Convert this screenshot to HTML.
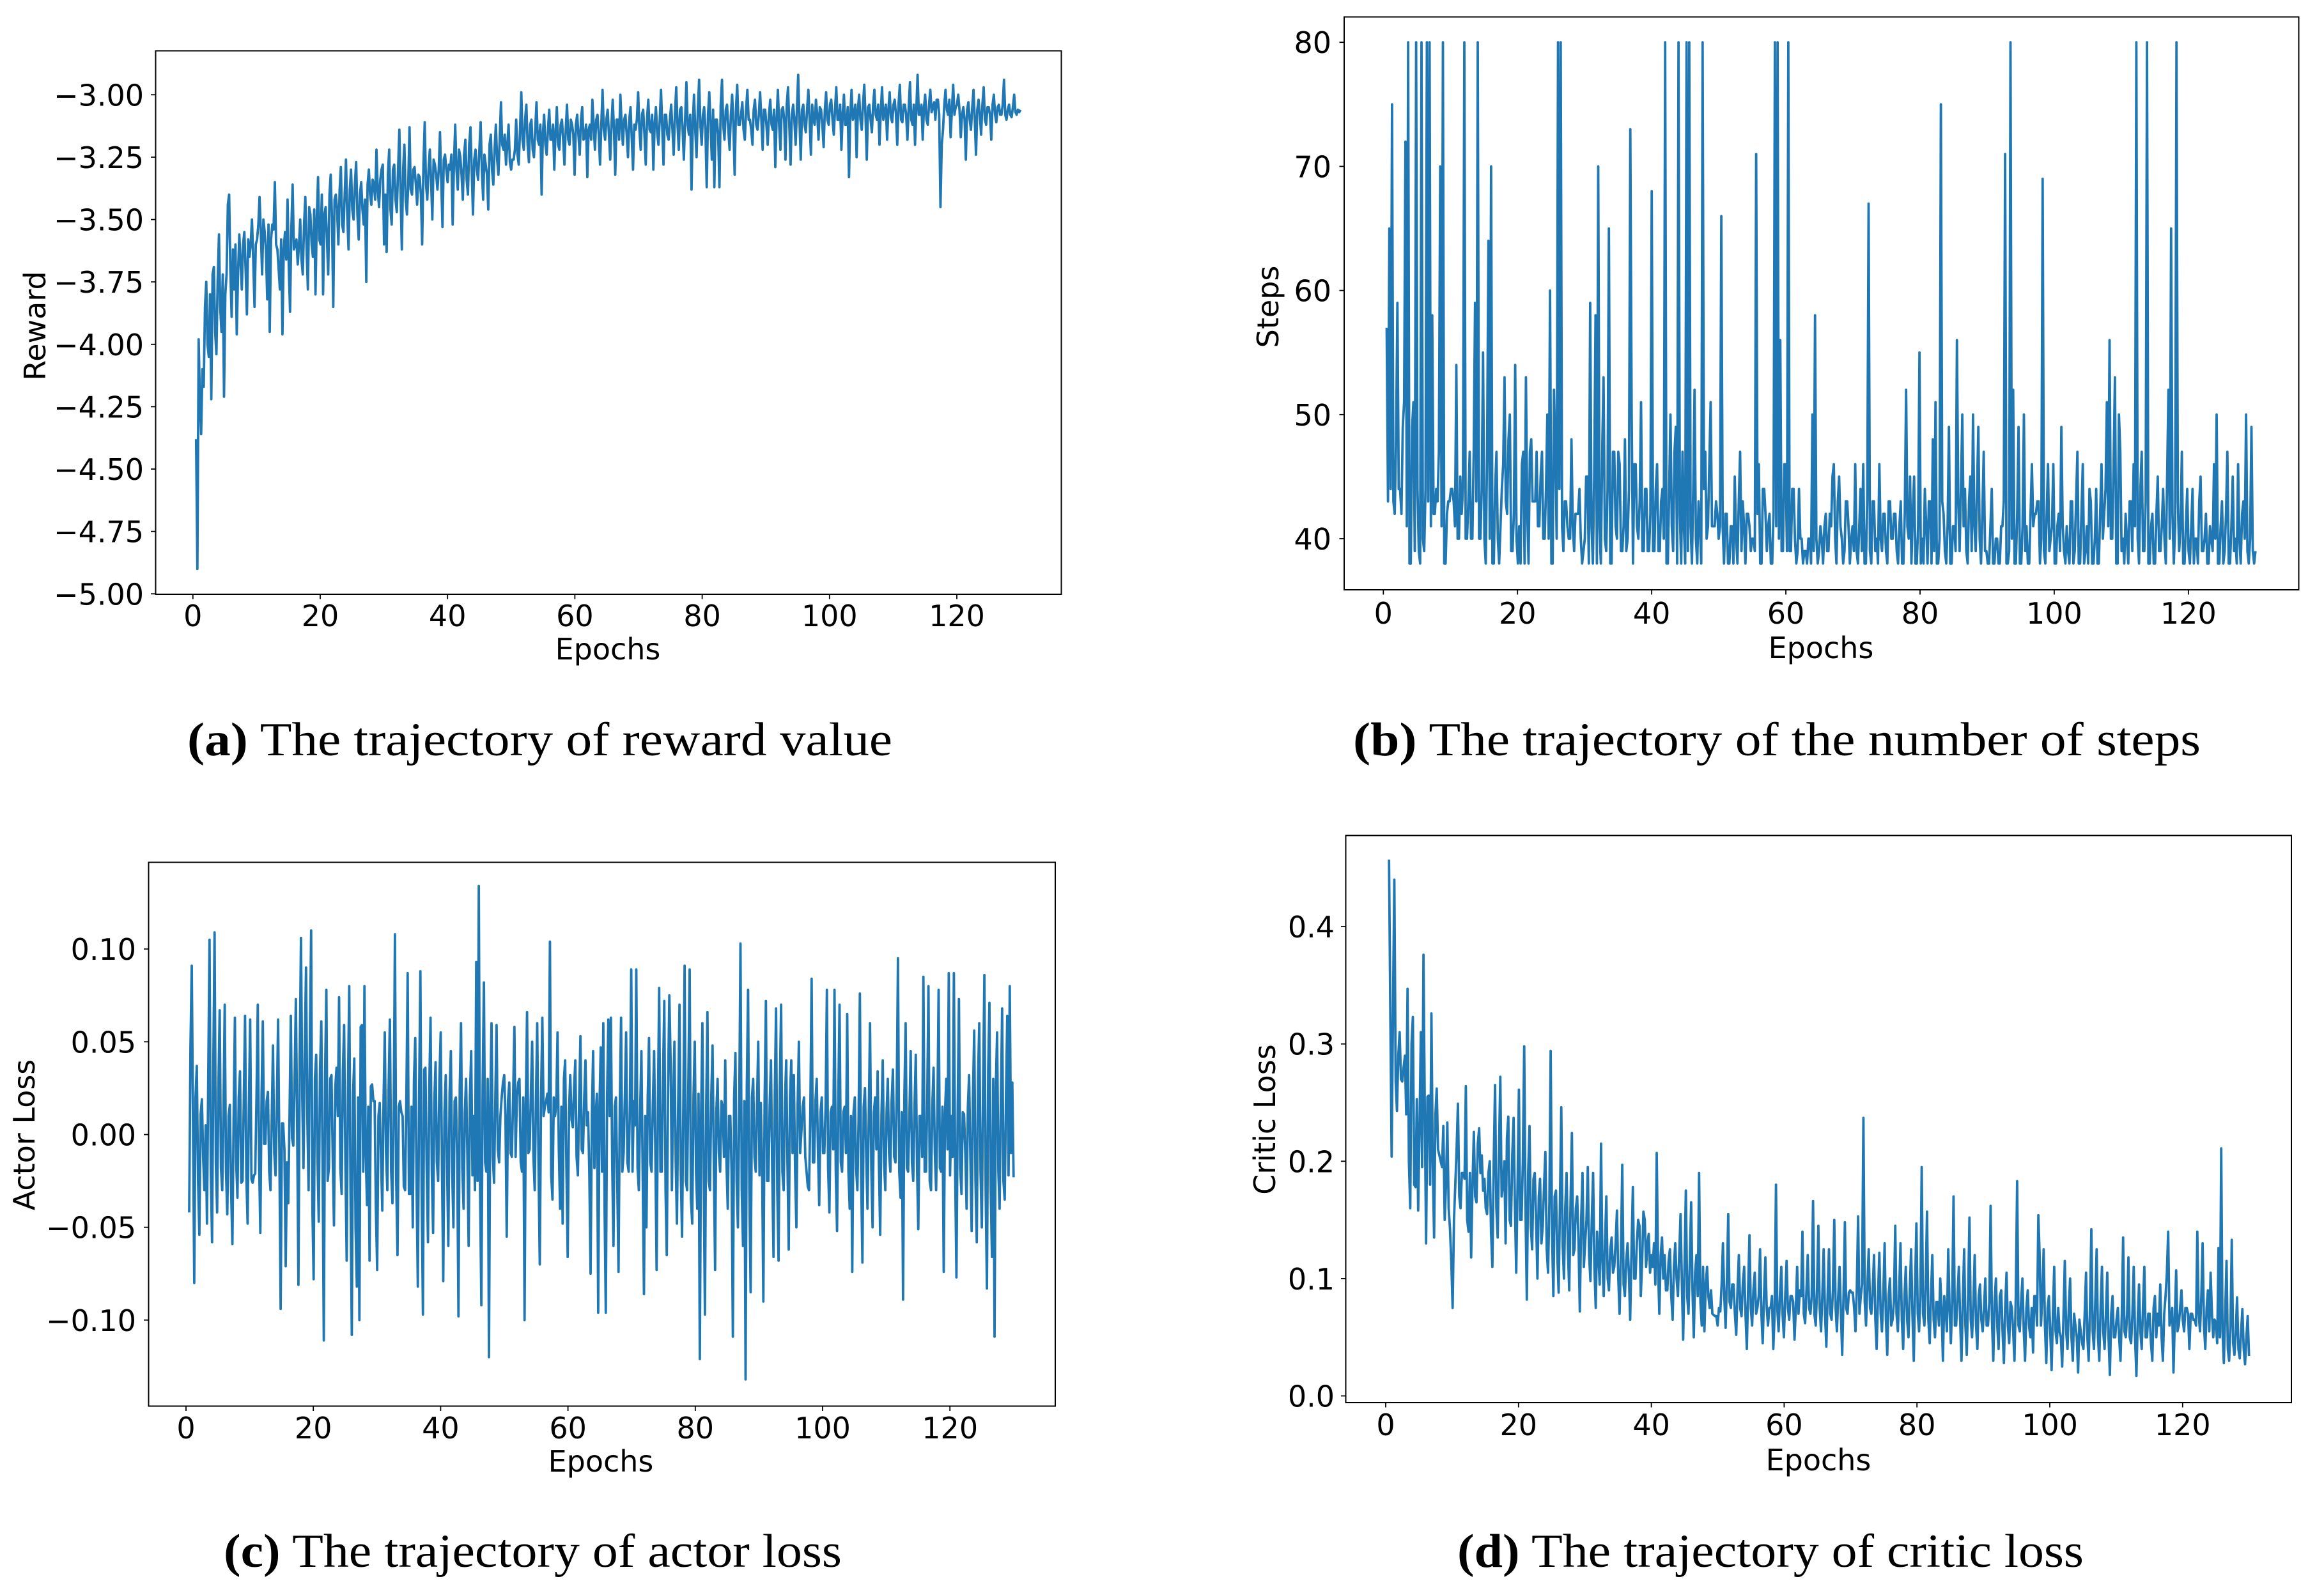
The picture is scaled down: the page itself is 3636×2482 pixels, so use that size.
<!DOCTYPE html>
<html lang="en">
<head>
<meta charset="utf-8">
<title>Training trajectories</title>
<style>
html,body{margin:0;padding:0;background:#fff;width:3636px;height:2482px;overflow:hidden}
svg{display:block}
.tick,.axis-title{font-family:"DejaVu Sans","Liberation Sans",sans-serif;font-size:46px;fill:#000}
.caption{font-family:"Liberation Serif",serif;font-size:74px;fill:#000}
.caption .b{font-weight:700}
</style>
</head>
<body>
<svg id="figure" xmlns="http://www.w3.org/2000/svg" width="3636" height="2482" viewBox="0 0 3636 2482">
  <rect width="3636" height="2482" fill="#fff"/>

  <text class="axis-title" x="951" y="1032" text-anchor="middle">Epochs</text>
  <text class="axis-title" text-anchor="middle" transform="translate(71 510) rotate(-90)">Reward</text>
  <text class="caption" x="293" y="1182" textLength="1103" lengthAdjust="spacingAndGlyphs"><tspan class="b">(a)</tspan> The trajectory of reward value</text>

  <text class="axis-title" x="2849" y="1030" text-anchor="middle">Epochs</text>
  <text class="axis-title" text-anchor="middle" transform="translate(2000 480) rotate(-90)">Steps</text>
  <text class="caption" x="2117" y="1182" textLength="1326" lengthAdjust="spacingAndGlyphs"><tspan class="b">(b)</tspan> The trajectory of the number of steps</text>

  <text class="axis-title" x="940" y="2303" text-anchor="middle">Epochs</text>
  <text class="axis-title" text-anchor="middle" transform="translate(54 1776) rotate(-90)">Actor Loss</text>
  <text class="caption" x="350" y="2452" textLength="967" lengthAdjust="spacingAndGlyphs"><tspan class="b">(c)</tspan> The trajectory of actor loss</text>

  <text class="axis-title" x="2845" y="2301" text-anchor="middle">Epochs</text>
  <text class="axis-title" text-anchor="middle" transform="translate(1995 1752) rotate(-90)">Critic Loss</text>
  <text class="caption" x="2280" y="2452" textLength="980" lengthAdjust="spacingAndGlyphs"><tspan class="b">(d)</tspan> The trajectory of critic loss</text>
</svg>
<script>
const epochFirst = 0.5;
const epochLast = 130;
const xTickValues = [0, 20, 40, 60, 80, 100, 120];
const rewardTicks = [-3, -3.25, -3.5, -3.75, -4, -4.25, -4.5, -4.75, -5];
const stepsTicks = [40, 50, 60, 70, 80];
const actorTicks = [-0.1, -0.05, 0, 0.05, 0.1];
const criticTicks = [0, 0.1, 0.2, 0.3, 0.4];

const rewardValues = [
-4.38,-4.90,-3.98,-4.22,-4.36,-4.10,-4.17,-3.85,-3.75,-4.00,-4.05,-3.80,-4.22,-3.72,-3.69,-3.95,-4.04,-3.74,-3.56,-3.85,-3.95,-3.72,-4.21,-3.80,-3.72,-3.44,-3.40,-3.70,-3.89,-3.62,-3.78,-3.60,-3.96,-3.72,-3.56,-3.66,-3.78,-3.60,-3.55,-3.70,-3.88,-3.58,-3.65,-3.60,-3.50,-3.66,-3.85,-3.60,-3.58,-3.52,
-3.41,-3.55,-3.72,-3.50,-3.55,-3.62,-3.82,-3.52,-3.95,-3.58,-3.52,-3.54,-3.35,-3.60,-3.62,-3.70,-3.78,-3.58,-3.96,-3.62,-3.55,-3.66,-3.42,-3.70,-3.87,-3.54,-3.36,-3.62,-3.60,-3.58,-3.68,-3.60,-3.50,-3.66,-3.72,-3.52,-3.41,-3.62,-3.78,-3.45,-3.48,-3.60,-3.65,-3.46,-3.80,-3.50,-3.33,-3.58,-3.60,-3.40,
-3.80,-3.48,-3.45,-3.58,-3.72,-3.40,-3.32,-3.50,-3.85,-3.42,-3.40,-3.46,-3.60,-3.38,-3.29,-3.52,-3.55,-3.40,-3.26,-3.48,-3.62,-3.38,-3.30,-3.46,-3.50,-3.36,-3.27,-3.48,-3.58,-3.40,-3.35,-3.46,-3.52,-3.42,-3.75,-3.36,-3.30,-3.40,-3.44,-3.34,-3.36,-3.42,-3.22,-3.38,-3.45,-3.34,-3.30,-3.28,-3.60,-3.40,
-3.63,-3.32,-3.22,-3.46,-3.52,-3.30,-3.28,-3.42,-3.47,-3.30,-3.14,-3.40,-3.62,-3.30,-3.20,-3.42,-3.48,-3.36,-3.13,-3.38,-3.40,-3.30,-3.29,-3.36,-3.44,-3.32,-3.33,-3.40,-3.60,-3.28,-3.11,-3.36,-3.42,-3.30,-3.22,-3.34,-3.50,-3.26,-3.28,-3.32,-3.38,-3.30,-3.15,-3.34,-3.53,-3.26,-3.24,-3.30,-3.35,-3.28,
-3.30,-3.24,-3.52,-3.28,-3.12,-3.30,-3.38,-3.22,-3.25,-3.32,-3.42,-3.24,-3.18,-3.34,-3.40,-3.20,-3.13,-3.30,-3.48,-3.26,-3.22,-3.30,-3.34,-3.22,-3.11,-3.30,-3.42,-3.24,-3.28,-3.32,-3.46,-3.20,-3.16,-3.30,-3.36,-3.22,-3.12,-3.26,-3.32,-3.18,-3.03,-3.20,-3.22,-3.16,-3.28,-3.20,-3.12,-3.27,-3.30,-3.26,
-3.26,-3.22,-3.10,-3.24,-3.28,-3.14,-2.99,-3.18,-3.22,-3.10,-3.04,-3.20,-3.27,-3.12,-3.10,-3.22,-3.25,-3.14,-3.03,-3.18,-3.20,-3.12,-3.40,-3.16,-3.08,-3.20,-3.24,-3.14,-3.06,-3.18,-3.18,-3.12,-3.30,-3.15,-3.05,-3.20,-3.22,-3.12,-3.10,-3.18,-3.28,-3.14,-3.04,-3.18,-3.20,-3.10,-3.12,-3.16,-3.32,-3.12,
-3.08,-3.16,-3.24,-3.10,-3.05,-3.18,-3.17,-3.12,-3.33,-3.14,-3.12,-3.18,-3.02,-3.12,-3.22,-3.10,-3.08,-3.16,-3.28,-3.12,-2.98,-3.14,-3.18,-3.10,-3.06,-3.16,-3.26,-3.12,-3.02,-3.14,-3.32,-3.10,-3.10,-3.18,-3.00,-3.12,-3.20,-3.10,-3.08,-3.16,-3.25,-3.10,-3.05,-3.18,-3.30,-3.12,-3.14,-3.10,-2.99,-3.14,
-3.22,-3.08,-3.06,-3.16,-3.28,-3.10,-3.02,-3.14,-3.15,-3.08,-3.30,-3.12,-3.05,-3.15,-3.20,-3.10,-2.98,-3.14,-3.28,-3.08,-3.08,-3.16,-3.18,-3.10,-3.04,-3.14,-3.24,-3.08,-2.97,-3.12,-3.22,-3.06,-3.05,-3.14,-3.26,-3.10,-2.95,-3.12,-3.16,-3.08,-3.38,-3.12,-3.00,-3.14,-3.25,-3.06,-2.94,-3.12,-3.20,-3.08,
-3.05,-3.14,-3.37,-3.08,-2.99,-3.12,-3.26,-3.06,-3.37,-3.10,-3.10,-3.16,-3.37,-3.04,-2.94,-3.12,-3.18,-3.06,-3.04,-3.14,-3.22,-3.08,-3.00,-3.12,-3.32,-3.06,-2.96,-3.12,-3.12,-3.08,-3.03,-3.14,-3.18,-3.06,-2.98,-3.10,-3.10,-3.14,-3.20,-3.06,-3.02,-3.12,-3.14,-3.08,-2.99,-3.10,-3.22,-3.06,-3.06,-3.12,
-3.20,-3.08,-3.02,-3.12,-3.14,-3.06,-3.29,-3.10,-2.98,-3.12,-3.22,-3.06,-3.05,-3.10,-3.26,-3.04,-2.97,-3.12,-3.28,-3.08,-3.04,-3.10,-3.20,-3.06,-2.92,-3.10,-3.26,-3.06,-3.04,-3.12,-3.15,-3.06,-2.98,-3.10,-3.24,-3.04,-3.10,-3.12,-3.02,-3.08,-3.18,-3.05,-3.06,-3.12,-3.21,-3.06,-2.99,-3.10,-3.12,-3.04,
-3.02,-3.10,-3.16,-3.06,-2.97,-3.10,-3.10,-3.04,-3.22,-3.08,-3.00,-3.12,-3.12,-3.05,-3.33,-3.08,-2.98,-3.10,-3.08,-3.04,-3.25,-3.06,-3.00,-3.10,-3.14,-3.04,-2.96,-3.08,-3.26,-3.05,-3.04,-3.10,-3.15,-3.04,-2.98,-3.08,-3.10,-3.04,-3.20,-3.07,-2.97,-3.10,-3.07,-3.04,-3.18,-3.06,-2.99,-3.09,-3.11,-3.04,
-3.02,-3.08,-3.20,-3.04,-2.96,-3.10,-3.11,-3.04,-3.04,-3.08,-3.18,-3.05,-2.95,-3.10,-3.12,-3.04,-3.20,-3.06,-2.92,-3.08,-3.08,-3.04,-3.18,-3.05,-3.00,-3.10,-3.12,-3.04,-2.98,-3.07,-3.05,-3.03,-3.10,-3.02,-3.02,-3.08,-3.45,-3.20,-3.14,-3.04,-2.98,-3.06,-3.08,-3.02,-3.17,-3.06,-2.96,-3.08,-3.05,-3.04,
-3.00,-3.06,-3.17,-3.08,-3.05,-3.10,-3.26,-3.06,-3.03,-3.10,-3.14,-3.05,-2.98,-3.10,-3.24,-3.06,-3.02,-3.08,-3.16,-3.04,-2.97,-3.10,-3.12,-3.05,-3.05,-3.08,-3.18,-3.04,-3.00,-3.08,-3.11,-3.05,-3.04,-3.08,-3.08,-3.04,-2.94,-3.08,-3.10,-3.06,-3.04,-3.08,-3.09,-3.05,-3.00,-3.07,-3.08,-3.06,-3.07,-3.06
];

const stepsValues = [
57,43,65,44,75,43,42,48,59,44,44,42,49,51,72,41,80,38,38,49,51,39,80,44,39,38,80,40,39,44,80,43,80,41,58,42,42,44,43,47,70,41,80,38,38,42,43,43,44,44,
43,41,54,40,40,45,42,44,80,40,40,43,47,40,40,47,59,43,80,40,40,44,55,40,38,47,64,40,70,38,38,44,47,40,38,41,44,46,53,43,42,48,50,39,39,42,54,40,38,41,
38,46,47,38,53,42,38,47,48,43,43,43,47,41,41,45,47,40,40,44,50,40,60,38,38,52,47,40,80,44,80,41,39,43,43,41,40,40,48,41,39,42,42,42,44,40,38,39,40,45,
45,38,59,41,38,45,58,38,70,41,38,47,53,40,39,44,65,38,38,47,47,41,40,47,46,39,39,41,48,39,40,44,73,50,38,46,46,41,40,43,51,39,39,44,44,39,39,42,68,39,
39,44,46,39,39,43,44,40,80,38,38,44,50,41,39,47,49,38,80,42,38,47,41,38,80,39,80,41,38,44,52,40,38,43,41,38,80,44,47,40,41,46,51,41,41,41,43,42,40,41,
66,41,38,42,42,38,38,41,41,38,45,40,38,43,47,39,43,41,38,42,42,41,39,40,40,39,71,42,46,38,38,44,44,42,39,41,42,38,38,42,80,41,80,40,56,39,39,46,46,39,
80,39,39,44,44,40,38,39,44,40,40,38,39,39,38,40,40,38,50,39,58,40,38,39,41,40,38,41,42,39,39,42,41,45,46,40,38,43,45,41,40,38,39,43,43,41,38,40,41,39,
46,39,38,41,44,39,46,38,38,43,67,39,38,43,43,39,40,38,46,40,39,42,42,39,38,43,43,40,40,42,42,39,38,41,43,38,38,42,52,41,40,45,38,42,45,38,38,41,55,38,
40,38,44,41,38,43,43,38,48,39,51,38,38,40,75,43,42,39,38,41,49,38,38,41,41,39,56,43,39,44,50,41,44,39,38,43,45,39,50,41,39,44,49,40,38,42,47,39,39,38,
38,41,44,38,38,40,40,38,38,41,41,43,71,38,38,39,80,40,52,38,38,42,49,38,38,41,50,39,41,38,38,42,46,41,42,42,43,43,38,40,69,39,38,42,46,39,40,41,46,38,
38,41,42,39,49,41,39,38,41,39,38,43,43,38,39,43,47,38,38,42,46,38,39,41,38,44,43,38,38,40,44,38,38,42,46,40,42,44,51,41,56,40,40,46,53,38,38,50,47,39,
40,38,42,40,38,43,43,39,46,41,80,40,38,44,47,39,39,43,80,38,38,41,42,38,38,42,45,39,39,41,44,40,38,45,52,40,65,42,38,41,80,43,39,41,47,38,38,41,44,39,
38,41,44,38,40,40,38,43,45,39,39,40,42,38,38,41,40,39,46,40,50,38,38,41,43,38,39,42,47,38,38,41,45,39,40,38,46,40,38,42,43,40,50,39,38,40,49,39,38,39
];

const actorValues = [
-.042,.047,.091,.012,-.080,.020,.037,-.025,-.054,.011,.019,-.012,-.030,.005,-.048,.030,.105,-.020,-.058,.035,.109,-.015,-.042,.025,.067,-.018,-.030,.012,.070,-.020,-.043,.010,.016,-.030,-.059,.008,.063,-.015,-.034,.020,.034,-.026,-.025,.018,.064,-.022,-.048,.015,.062,-.024,
-.026,-.022,-.021,.020,.070,-.012,-.053,.022,.061,-.005,-.005,.018,.023,-.020,-.030,.010,.048,-.010,-.022,.015,.062,-.010,-.094,.006,.006,-.008,-.071,-.015,-.037,.010,.064,-.002,-.006,.030,.073,.005,-.081,.040,.106,.020,-.018,.045,.090,.010,-.030,.050,.110,-.040,-.078,.030,
.043,-.012,-.047,.035,.061,-.015,-.111,.032,.078,-.025,-.018,.030,.032,-.012,-.049,.025,.036,.010,.074,-.018,-.032,.035,.059,-.015,-.068,.025,.080,-.030,-.108,.022,.041,-.050,-.082,.020,-.100,.058,.059,-.020,.080,-.010,-.038,.015,-.068,.026,.027,.018,.018,-.040,-.073,.010,
.017,-.012,-.041,.018,.055,-.010,-.030,.025,.062,-.020,-.037,.014,.108,-.025,-.065,.015,.018,.012,.010,-.028,-.030,.020,.087,-.032,-.032,.015,-.050,.030,.052,-.025,-.082,.020,.088,-.030,-.097,.035,.036,-.018,-.058,.025,.063,-.020,-.053,.018,.039,-.015,-.025,.030,.055,-.018,
-.079,.012,.032,-.015,-.060,.022,.045,-.018,-.050,.018,.020,-.012,-.098,.025,.060,-.018,-.040,.012,.030,-.010,-.060,.020,.045,-.022,.010,-.030,.093,-.025,.134,-.030,-.092,.025,.082,-.015,-.020,.030,-.120,.015,.060,-.012,-.026,.018,.059,-.008,-.015,.010,.020,.028,.032,.010,
-.055,.018,.028,-.010,-.012,.020,.058,-.012,.020,.028,.030,-.015,-.020,.020,-.100,.015,.066,-.010,-.008,.022,.050,-.012,-.030,.018,.060,-.015,-.070,.020,.063,.010,.015,.018,.022,.012,.104,-.022,-.035,.020,.010,.016,.055,-.008,-.040,.015,-.048,.030,.040,-.018,-.066,.012,
.032,.008,.004,.025,.040,-.012,-.022,.018,.053,-.008,-.010,.020,.040,.005,.012,-.020,-.075,.010,.045,-.018,.010,.022,-.096,.015,.047,-.020,.060,-.040,-.096,.020,.062,.010,.063,-.015,-.060,.015,.020,-.025,-.074,.015,.063,-.020,-.010,.022,.055,-.015,-.020,.018,.089,-.020,
.018,.005,.089,-.018,-.030,.012,.045,-.020,-.086,.010,-.050,.020,.052,-.015,-.020,.016,.045,-.012,-.073,.015,.079,-.020,-.020,.030,.072,-.030,-.065,.025,.075,.040,-.030,.020,.050,-.015,-.048,.018,.070,-.020,-.055,.015,.091,-.025,-.030,.030,.089,-.035,-.048,.020,.050,-.020,
-.040,.022,-.121,.010,.060,-.020,-.097,.015,.066,-.025,-.030,.020,.048,-.015,-.073,.012,.030,-.010,-.020,.018,.015,-.012,.040,-.015,-.040,.010,.010,-.020,-.109,.020,.044,-.025,-.050,.012,.103,-.030,-.060,.018,-.132,.025,.078,-.030,-.085,.020,.030,-.012,-.020,.015,.050,-.022,
.017,-.015,-.090,.018,.072,-.025,-.025,.016,.040,-.020,-.066,.022,.068,-.030,-.068,.025,.070,-.020,-.030,.018,.040,-.015,-.062,.020,.040,-.010,.032,-.020,-.050,.015,.050,-.010,.002,.015,.020,-.012,-.020,-.028,-.030,.012,.084,-.015,-.015,.018,.030,-.008,-.038,.012,.020,-.010,
-.010,.015,.078,-.018,-.042,.012,.015,-.008,.078,-.020,-.052,.018,.070,-.015,-.020,.012,.015,-.010,.065,-.020,-.040,.010,-.074,.012,.020,-.018,-.030,.008,.076,-.022,-.069,.015,.025,-.012,-.040,.010,.060,-.018,-.050,.012,.020,-.008,.034,-.015,-.054,.010,.040,-.015,-.030,.012,
.030,-.010,-.020,.018,.035,-.012,-.015,.022,.095,-.020,-.034,.012,-.089,.020,.060,-.018,-.020,.010,.045,-.015,-.025,.015,.043,-.018,-.051,.010,.010,-.012,.085,-.020,-.020,.018,.080,-.025,-.030,.015,.036,-.010,-.030,.012,.078,-.018,-.020,.015,-.074,.012,.030,-.008,.087,-.022,
.010,-.012,.087,-.020,-.077,.015,.073,-.018,-.032,.012,.011,-.010,-.040,.015,.032,-.012,-.052,.020,.056,-.025,-.058,.030,.060,-.020,-.050,.025,.086,-.030,-.083,.035,.071,-.030,-.066,.030,-.109,.025,.055,-.020,-.040,.018,.068,-.025,-.035,.020,.064,-.022,.080,-.010,.028,-.023
];

const criticValues = [
.457,.322,.204,.330,.440,.268,.243,.290,.310,.270,.268,.280,.290,.240,.347,.200,.160,.300,.323,.180,.178,.253,.158,.230,.310,.195,.376,.240,.130,.255,.256,.180,.326,.200,.135,.240,.262,.210,.205,.200,.195,.230,.150,.180,.233,.160,.142,.115,.075,.150,
.180,.210,.249,.170,.160,.190,.190,.185,.264,.150,.140,.190,.118,.180,.225,.170,.165,.215,.228,.190,.205,.175,.185,.160,.155,.190,.200,.140,.110,.200,.265,.160,.135,.210,.272,.170,.180,.200,.130,.220,.238,.150,.145,.205,.237,.165,.105,.180,.261,.150,
.150,.200,.298,.160,.082,.190,.230,.145,.125,.185,.190,.150,.100,.170,.185,.130,.145,.180,.208,.125,.105,.165,.294,.140,.085,.170,.175,.120,.088,.165,.246,.130,.100,.160,.190,.125,.090,.165,.224,.120,.125,.160,.170,.130,.072,.150,.190,.110,.130,.150,
.195,.120,.098,.150,.190,.110,.075,.140,.120,.095,.215,.115,.085,.130,.170,.100,.090,.125,.135,.105,.110,.130,.158,.100,.070,.120,.197,.095,.085,.115,.130,.105,.065,.125,.178,.100,.100,.130,.150,.145,.085,.115,.157,.150,.110,.130,.138,.105,.120,.110,
.130,.095,.207,.110,.070,.120,.135,.100,.120,.090,.090,.115,.125,.085,.065,.110,.130,.100,.085,.120,.155,.095,.048,.110,.175,.085,.070,.115,.165,.090,.050,.105,.120,.085,.190,.080,.060,.110,.055,.095,.110,.085,.075,.090,.070,.069,.068,.068,.060,.075,
.072,.095,.130,.085,.058,.100,.155,.080,.075,.095,.095,.070,.052,.090,.120,.075,.068,.095,.110,.070,.040,.090,.137,.075,.060,.090,.105,.070,.075,.085,.125,.070,.045,.085,.118,.075,.060,.075,.075,.085,.040,.070,.180,.075,.055,.085,.110,.070,.050,.085,
.115,.075,.065,.085,.085,.080,.048,.075,.110,.070,.090,.085,.140,.070,.062,.090,.120,.075,.070,.085,.166,.070,.060,.090,.145,.075,.055,.085,.125,.070,.042,.085,.125,.070,.065,.090,.150,.075,.055,.085,.110,.070,.035,.085,.148,.075,.070,.088,.090,.088,
.088,.075,.055,.090,.153,.070,.085,.095,.237,.080,.060,.095,.125,.075,.070,.090,.120,.065,.040,.085,.122,.070,.055,.085,.130,.065,.035,.085,.100,.060,.065,.080,.145,.070,.055,.090,.130,.065,.040,.085,.110,.065,.050,.090,.125,.070,.030,.095,.147,.070,
.055,.085,.195,.070,.060,.095,.157,.065,.045,.085,.120,.065,.050,.080,.080,.060,.100,.075,.030,.085,.075,.055,.125,.075,.045,.080,.170,.060,.060,.085,.110,.065,.030,.080,.125,.060,.035,.085,.152,.065,.050,.080,.120,.060,.040,.085,.095,.065,.055,.075,
.100,.060,.060,.080,.162,.065,.030,.080,.100,.060,.040,.085,.090,.055,.028,.075,.105,.060,.045,.080,.075,.055,.030,.085,.183,.060,.055,.080,.100,.055,.030,.075,.090,.060,.050,.075,.037,.085,.085,.060,.154,.120,.060,.085,.125,.060,.028,.075,.085,.055,
.022,.070,.110,.055,.045,.075,.055,.050,.025,.070,.115,.055,.040,.075,.100,.050,.030,.070,.060,.050,.020,.065,.055,.045,.040,.070,.105,.050,.030,.075,.142,.055,.040,.080,.125,.050,.030,.075,.110,.055,.040,.070,.105,.050,.018,.070,.085,.050,.050,.065,
.075,.050,.030,.070,.135,.055,.050,.070,.118,.050,.045,.070,.110,.050,.017,.065,.095,.055,.040,.075,.110,.050,.050,.070,.070,.045,.030,.075,.085,.050,.070,.060,.095,.050,.030,.070,.085,.105,.140,.060,.065,.075,.020,.065,.107,.055,.060,.075,.090,.065,
.055,.075,.075,.070,.040,.070,.070,.065,.065,.060,.140,.070,.055,.085,.130,.060,.040,.075,.090,.055,.105,.070,.050,.065,.062,.045,.126,.050,.211,.055,.028,.070,.115,.040,.030,.060,.133,.045,.035,.055,.084,.040,.032,.055,.074,.040,.027,.050,.068,.034
];

const panels = [
  { id: 'reward', values: rewardValues, ticks: rewardTicks, decimals: 2,
    left: 243.5, right: 1660.5, top: 79.5, bottom: 930, x0: 301.8, xPerEpoch: 9.96, y0: -1023.2, yPerUnit: 390.5, labelRight: 225, xLabelBase: 980 },
  { id: 'steps', values: stepsValues, ticks: stepsTicks, decimals: 0,
    left: 2103, right: 3596.5, top: 26.5, bottom: 923, x0: 2164.3, xPerEpoch: 10.496, y0: 1619.8, yPerUnit: 19.42, labelRight: 2083, xLabelBase: 976 },
  { id: 'actor', values: actorValues, ticks: actorTicks, decimals: 2,
    left: 232.5, right: 1651, top: 1349.5, bottom: 2200.5, x0: 291, xPerEpoch: 9.96, y0: 1775.5, yPerUnit: 2903, labelRight: 213, xLabelBase: 2251 },
  { id: 'critic', values: criticValues, ticks: criticTicks, decimals: 1,
    left: 2105.5, right: 3585, top: 1307.5, bottom: 2195, x0: 2168, xPerEpoch: 10.39, y0: 2184.5, yPerUnit: 1836, labelRight: 2088, xLabelBase: 2246 }
];

const SVG_NS = 'http://www.w3.org/2000/svg';
const figure = document.getElementById('figure');

function make(tag, attrs, parent) {
  const el = document.createElementNS(SVG_NS, tag);
  for (const k in attrs) el.setAttribute(k, attrs[k]);
  parent.appendChild(el);
  return el;
}
function xScale(p, epoch) { return p.x0 + p.xPerEpoch * epoch; }
function yScale(p, value) { return p.y0 - p.yPerUnit * value; }
function formatTick(value, decimals) {
  const s = Math.abs(value).toFixed(decimals);
  return value < 0 ? '\u2212' + s : s;
}

panels.forEach(function (p) {
  const group = make('g', {}, figure);
  
  

  const step = (epochLast - epochFirst) / (p.values.length - 1);
  const d = p.values.map(function (v, i) {
    const epoch = epochFirst + step * i;
    return (i ? 'L' : 'M') + xScale(p, epoch).toFixed(1) + ' ' + yScale(p, v).toFixed(1);
  }).join('');
  const line = make('path', { d: d, fill: 'none', stroke: '#1f77b4', 'stroke-width': 3.8, 'stroke-linejoin': 'round', 'stroke-linecap': 'butt' }, group);
  
  

  const frame = make('rect', { x: p.left, y: p.top, width: p.right - p.left, height: p.bottom - p.top, fill: 'none', stroke: '#000', 'stroke-width': 2 }, group);
  
  

  xTickValues.forEach(function (t) {
    const x = xScale(p, t);
    const mark = make('line', { x1: x, x2: x, y1: p.bottom, y2: p.bottom + 7.5, stroke: '#000', 'stroke-width': 1.8 }, group);
    
    
    const label = make('text', { class: 'tick', x: x, y: p.xLabelBase, 'text-anchor': 'middle' }, group);
    
    
    label.textContent = String(t);
  });

  p.ticks.forEach(function (t) {
    const y = yScale(p, t);
    const mark = make('line', { x1: p.left - 7.5, x2: p.left, y1: y, y2: y, stroke: '#000', 'stroke-width': 1.8 }, group);
    
    
    const label = make('text', { class: 'tick', x: p.labelRight, y: y + 17, 'text-anchor': 'end' }, group);
    
    
    label.textContent = formatTick(t, p.decimals);
  });
});
</script>
</body>
</html>
